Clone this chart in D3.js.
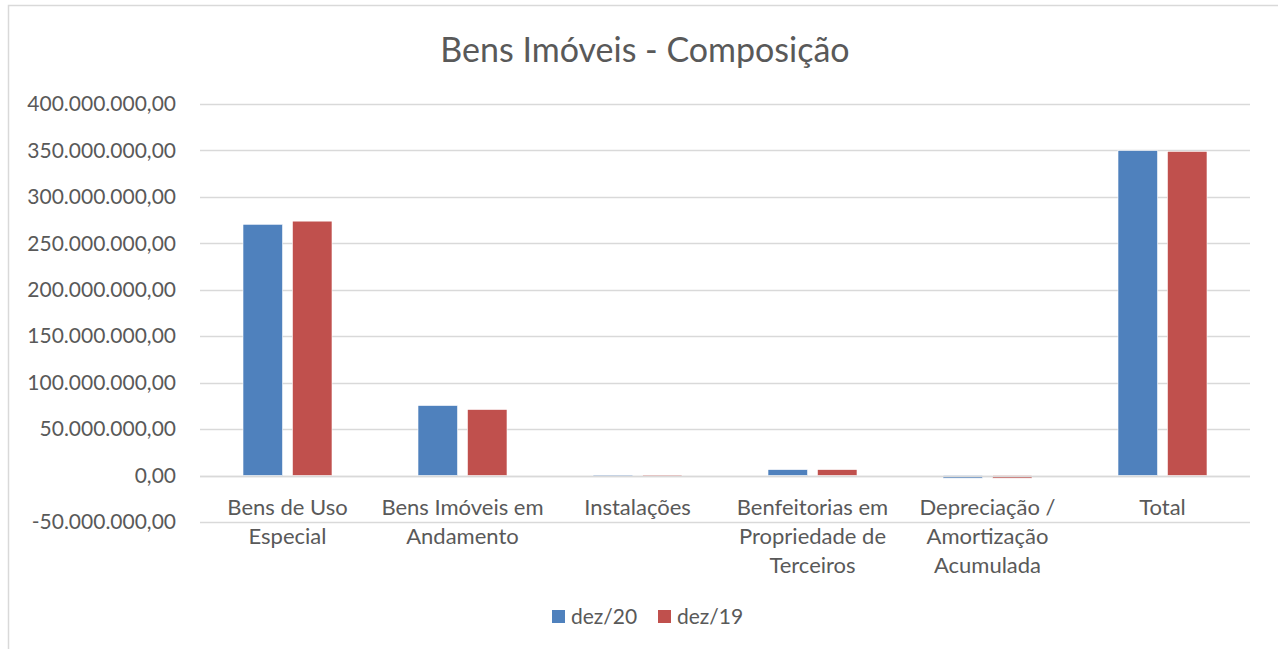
<!DOCTYPE html>
<html><head><meta charset="utf-8">
<script src="https://cdn.jsdelivr.net/npm/d3@7"></script>
<style>
html,body{margin:0;padding:0;background:#fff;}
text{font-family:Lato, "Open Sans", sans-serif;fill:#595959;}
</style></head>
<body>
<svg id="c" width="1278" height="649"></svg>
<script>
const categories = [
  ["Bens de Uso","Especial"],
  ["Bens Imóveis em","Andamento"],
  ["Instalações"],
  ["Benfeitorias em","Propriedade de","Terceiros"],
  ["Depreciação /","Amortização","Acumulada"],
  ["Total"]
];
const seriesNames = ["dez/20","dez/19"];
const dez20 = [270500000, 75400000, 500000, 6400000, -2800000, 349900000];
const dez19 = [273900000, 71100000, 500000, 6400000, -2800000, 349000000];
const tickValues = [-50000000,0,50000000,100000000,150000000,200000000,250000000,300000000,350000000,400000000];
const colors = ["#4f81bd","#c0504d"];

const svg = d3.select("#c");
// outer frame
svg.append("rect").attr("x",8.5).attr("y",5.5).attr("width",1400).attr("height",800)
  .attr("fill","none").attr("stroke","#d9d9d9").attr("stroke-width",1.5);

const left=200,right=1250;
const y = d3.scaleLinear().domain([-50000000,400000000]).range([522,104]);
const x0 = d3.scaleBand().domain(d3.range(categories.length)).range([left,right]).paddingInner(0).paddingOuter(0);
const x1 = d3.scaleBand().domain([0,1]).range([0,89]).paddingInner(0.2);

const fmt = v => {
  const s = d3.format(",.2f")(v);
  return s.replace(/,/g,"#").replace(/\./g,",").replace(/#/g,".").replace("−","-");
};

// gridlines
svg.append("g").selectAll("line").data(tickValues).join("line")
  .attr("x1",left).attr("x2",right)
  .attr("y1",d=>Math.round(y(d))+0.5).attr("y2",d=>Math.round(y(d))+0.5)
  .attr("stroke","#d9d9d9").attr("stroke-width",1.5);

// y axis labels
const yAxis = d3.axisLeft(y).tickValues(tickValues).tickFormat(fmt).tickSize(0).tickPadding(0);
const ya = svg.append("g").attr("transform","translate(176,0)").call(yAxis);
ya.select(".domain").remove();
ya.selectAll("text").style("font-size","21px").style("fill","#595959").style("font-family","Lato");

// bars
const data = categories.map((c,i)=>({i,vals:[dez20[i],dez19[i]]}));
const g = svg.append("g");
data.forEach(d=>{
  d.vals.forEach((v,j)=>{
    const cx = x0(d.i)+x0.bandwidth()/2 - 44.5;
    g.append("rect")
      .attr("x",cx + x1(j))
      .attr("width",x1.bandwidth())
      .attr("y",Math.min(y(v),y(0)))
      .attr("height",Math.max(1,Math.abs(y(v)-y(0))))
      .attr("fill",colors[j]).attr("stroke","#fff").attr("stroke-width",0.6);
  });
});
// zero line
svg.append("line").attr("x1",left).attr("x2",right).attr("y1",Math.round(y(0))+0.5).attr("y2",Math.round(y(0))+0.5)
  .attr("stroke","#d9d9d9").attr("stroke-width",1.5);

// category labels
const xAxisG = svg.append("g");
categories.forEach((lines,i)=>{
  const t = xAxisG.append("text").attr("x",x0(i)+x0.bandwidth()/2).attr("y",515)
    .attr("text-anchor","middle").style("font-size","22px");
  lines.forEach((l,k)=>t.append("tspan").attr("x",x0(i)+x0.bandwidth()/2).attr("dy",k?29:0).text(l));
});

// title
svg.append("text").attr("x",645).attr("y",62).attr("text-anchor","middle")
  .style("font-size","34px").text("Bens Imóveis - Composição");

// legend
const leg = svg.append("g");
const legX = [552,658];
seriesNames.forEach((n,j)=>{
  leg.append("rect").attr("x",legX[j]).attr("y",610).attr("width",13).attr("height",13).attr("fill",colors[j]);
  leg.append("text").attr("x",legX[j]+19).attr("y",624).style("font-size","21px").text(n);
});
</script>
</body></html>
